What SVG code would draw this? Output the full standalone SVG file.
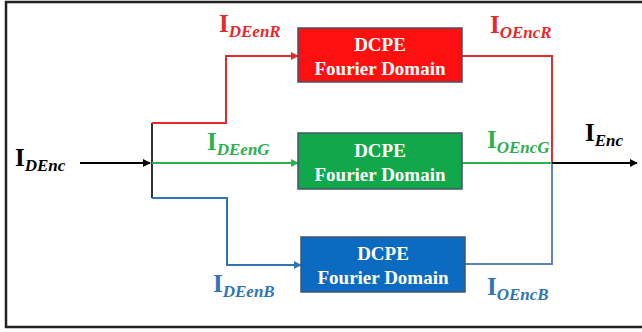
<svg xmlns="http://www.w3.org/2000/svg" width="642" height="332" viewBox="0 0 642 332">
<style>
.frame{fill:#fff;stroke:#222;stroke-width:2.5}
.box{stroke:#44546A;stroke-width:1.5}
.bt{font-family:"Liberation Serif",serif;font-weight:bold;font-size:19px;fill:#fff;text-anchor:middle}
.lbl{font-family:"Liberation Serif",serif;font-weight:bold;font-size:25px}
.sub{font-style:italic;font-size:17px}
.ln{fill:none;stroke-width:2}
</style>
<defs>
<marker id="ak" viewBox="0 0 10 10" refX="9" refY="5" markerWidth="4" markerHeight="4" orient="auto" markerUnits="strokeWidth"><path d="M0,0 L10,5 L0,10 z" fill="#000"/></marker>
<marker id="ar" viewBox="0 0 10 10" refX="9" refY="5" markerWidth="4" markerHeight="4" orient="auto" markerUnits="strokeWidth"><path d="M0,0 L10,5 L0,10 z" fill="#E8282B"/></marker>
<marker id="ag" viewBox="0 0 10 10" refX="9" refY="5" markerWidth="4" markerHeight="4" orient="auto" markerUnits="strokeWidth"><path d="M0,0 L10,5 L0,10 z" fill="#2DB04E"/></marker>
<marker id="ab" viewBox="0 0 10 10" refX="9" refY="5" markerWidth="4" markerHeight="4" orient="auto" markerUnits="strokeWidth"><path d="M0,0 L10,5 L0,10 z" fill="#2E75B6"/></marker>
</defs>
<rect class="frame" x="6" y="2" width="640" height="325"/>
<g id="connectors">
<path class="ln" stroke="#000" d="M80,163 H150" marker-end="url(#ak)"/>
<path class="ln" stroke="#333" d="M152,123 V198"/>
<path class="ln" stroke="#E8282B" d="M152,123 H226 V56 H298" marker-end="url(#ar)"/>
<path class="ln" stroke="#2DB04E" d="M152,163 H298" marker-end="url(#ag)"/>
<path class="ln" stroke="#2E75B6" d="M152,198 H227 V265 H301" marker-end="url(#ab)"/>
<path class="ln" stroke="#E8282B" d="M462,56 H552 V163"/>
<path class="ln" stroke="#2DB04E" d="M462,163 H552"/>
<path class="ln" stroke="#5B86C5" d="M465,264 H552 V163"/>
<path class="ln" stroke="#000" d="M552,163 H637" marker-end="url(#ak)"/>
</g>
<g id="boxR"><rect class="box" x="298" y="28" width="164" height="54" fill="#FF1010"/><text class="bt" x="380" y="51">DCPE</text><text class="bt" x="380" y="75">Fourier Domain</text></g>
<g id="boxG"><rect class="box" x="298" y="133" width="164" height="56" fill="#10A84A"/><text class="bt" x="380" y="157">DCPE</text><text class="bt" x="380" y="181">Fourier Domain</text></g>
<g id="boxB"><rect class="box" x="301" y="237" width="164" height="55" fill="#0B6BC1"/><text class="bt" x="383" y="260">DCPE</text><text class="bt" x="383" y="284">Fourier Domain</text></g>
<g id="labels">
<text class="lbl" x="15" y="166" fill="#000">I<tspan class="sub" dy="5">DEnc</tspan></text>
<text class="lbl" x="219" y="32" fill="#E8282B">I<tspan class="sub" dy="5">DEenR</tspan></text>
<text class="lbl" x="490" y="33" fill="#E8282B">I<tspan class="sub" dy="5">OEncR</tspan></text>
<text class="lbl" x="207" y="150" fill="#2DB04E">I<tspan class="sub" dy="5">DEenG</tspan></text>
<text class="lbl" x="487" y="148" fill="#2DB04E">I<tspan class="sub" dy="5">OEncG</tspan></text>
<text class="lbl" x="585" y="141" fill="#000">I<tspan class="sub" dy="5">Enc</tspan></text>
<text class="lbl" x="213" y="292" fill="#2E75B6">I<tspan class="sub" dy="5">DEenB</tspan></text>
<text class="lbl" x="487" y="295" fill="#2E75B6">I<tspan class="sub" dy="5">OEncB</tspan></text>
</g>
</svg>
